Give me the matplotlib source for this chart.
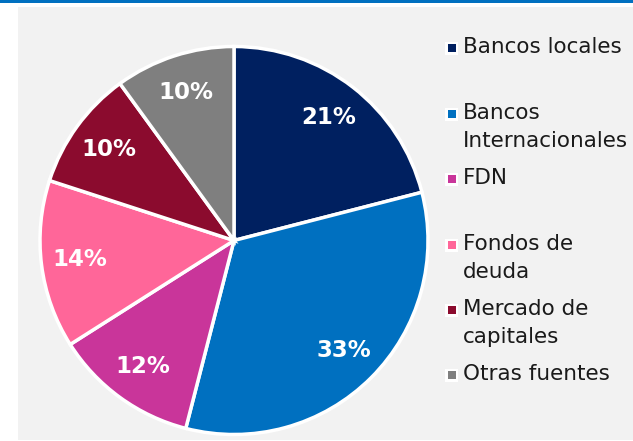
import matplotlib
matplotlib.use("Agg")
import matplotlib.pyplot as plt
from matplotlib.patches import Rectangle

categories = ["Bancos locales", "Bancos\nInternacionales", "FDN", "Fondos de\ndeuda",
              "Mercado de\ncapitales", "Otras fuentes"]
values = [21, 33, 12, 14, 10, 10]
colors = ["#002060", "#0070C0", "#C9359A", "#FF6699", "#8B0B2E", "#7F7F7F"]

W, H = 633, 441
fig = plt.figure(figsize=(W / 100, H / 100), dpi=100)
fig.patch.set_facecolor("white")

# background panel and top bar
fig.patches.append(Rectangle((18 / W, 1 - 440 / H), 1 - 18 / W, (440 - 7) / H,
                             transform=fig.transFigure, facecolor="#F2F2F2",
                             edgecolor="none", zorder=-2))
fig.patches.append(Rectangle((0, 1 - 3 / H), 1, 3 / H, transform=fig.transFigure,
                             facecolor="#0070C0", edgecolor="none", zorder=-2))

cx, cy, R = 234, 240.5, 194
ax = fig.add_axes([(cx - R) / W, (H - cy - R) / H, 2 * R / W, 2 * R / H])
ax.set_facecolor("none")
wedges, texts, autotexts = ax.pie(
    values, colors=colors, startangle=90, counterclock=False,
    autopct=lambda p: f"{p:.0f}%", pctdistance=0.8,
    wedgeprops=dict(edgecolor="white", linewidth=2.5),
    textprops=dict(color="white", fontsize=16.5, fontweight="bold"))
ax.set_xlim(-1, 1)
ax.set_ylim(-1, 1)
ax.set_aspect("equal")
ax.axis("off")

# legend
ys = [48, 114, 179, 245, 310, 375]
for lab, col, y in zip(categories, colors, ys):
    fig.patches.append(Rectangle((445 / W, 1 - (y + 6.5) / H), 13 / W, 13 / H,
                                 transform=fig.transFigure, facecolor="white",
                                 edgecolor="none", zorder=2))
    fig.patches.append(Rectangle((447.5 / W, 1 - (y + 4) / H), 8 / W, 8 / H,
                                 transform=fig.transFigure, facecolor=col,
                                 edgecolor="none", zorder=3))
    fig.text(463 / W, 1 - (y - 11) / H, lab, fontsize=15.5, color="#1a1a1a",
             va="top", ha="left", linespacing=1.5)

fig.savefig("out.png", dpi=100, facecolor=fig.get_facecolor())
